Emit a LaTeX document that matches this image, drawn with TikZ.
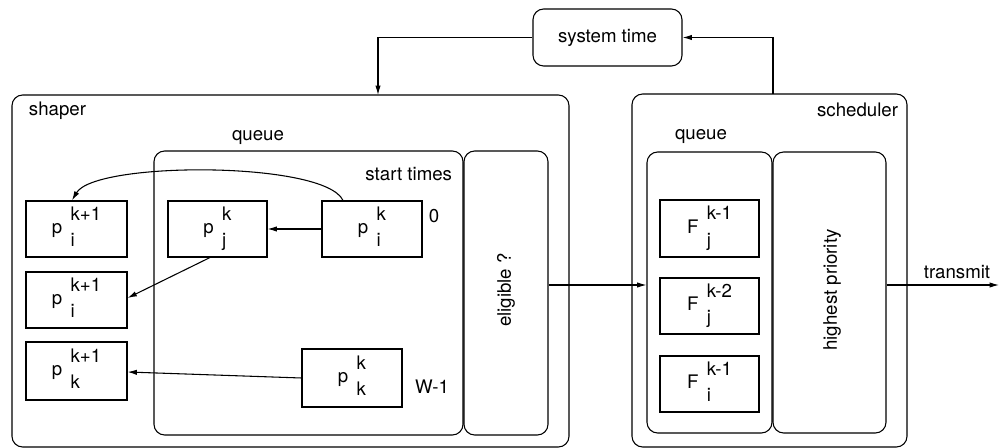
\documentclass[tikz,border=0pt]{standalone}
\usepackage{fontspec}
\setmainfont{TeX Gyre Heros}
\usetikzlibrary{fit,arrows.meta}
% packet / finish-time label: letter with stacked superscript and subscript
\newcommand{\pkt}[3]{#1\hspace{0.45em}\begin{tabular}[c]{@{}l@{}}#2\\[3pt]#3\end{tabular}}

\begin{document}
\begin{tikzpicture}[x=0.75pt,y=-0.75pt,
  font=\fontsize{14}{17}\selectfont, line width=0.8pt,
  frame/.style={draw, rounded corners=8pt, inner sep=0pt, fit={#1}},
  cell/.style={draw, inner sep=0pt, fit={#1}},
  tip/.style={-{Latex[length=7pt,width=4pt]}}]
\useasboundingbox (0,0) rectangle (999,448);

% system clock
\node[frame={(533,9)(682,66)}] (sys) {};
\node (syslbl) at (sys.center) {system time};

% shaper
\node[frame={(12,95)(569,447)}] (shaper) {};
\node[anchor=west] (shlbl) at (24,111) {shaper};
\node[frame={(154,151)(463,435)}] (squeue) {};
\node (sqlbl) at (258,138) {queue};
\node[anchor=east] (stlbl) at (457,174) {start times};
\node[frame={(464,151)(548,435)}] (elig) {};
\node[rotate=90] (eliglbl) at (506,290) {eligible ?};

\node[cell={(26,201)(127,257)}] (l1) {};
\node[cell={(26,272)(127,328)}] (l2) {};
\node[cell={(26,342)(127,400)}] (l3) {};
\node (l1t) at (l1.center) {\pkt{p}{k+1}{i}};
\node (l2t) at (l2.center) {\pkt{p}{k+1}{i}};
\node (l3t) at (l3.center) {\pkt{p}{k+1}{k}};

\node[cell={(168,201)(267,257)}] (pjk) {};
\node[cell={(322,201)(422,257)}] (pik) {};
\node[cell={(302,349)(402,407)}] (pkk) {};
\node (pjkt) at (pjk.center) {\pkt{p}{k}{j}};
\node (pikt) at (pik.center) {\pkt{p}{k}{i}};
\node (pkkt) at (pkk.center) {\pkt{p}{k}{k}};
\node (zero) at (434,216) {0};
\node (wlast) at (432,387) {W-1};

% scheduler
\node[frame={(632,94)(907,447)}] (sched) {};
\node[anchor=east] (sclbl) at (903,110) {scheduler};
\node[frame={(647,152)(772,433)}] (fqueue) {};
\node (fqlbl) at (701,137) {queue};
\node[frame={(773,152)(886,433)}] (hp) {};
\node[rotate=90] (hplbl) at (832,290) {highest priority};

\node[cell={(660,200)(759,257)}] (f1) {};
\node[cell={(660,278)(759,334)}] (f2) {};
\node[cell={(660,356)(759,412)}] (f3) {};
\node (f1t) at (f1.center) {\pkt{F}{k-1}{j}};
\node (f2t) at (f2.center) {\pkt{F}{k-2}{j}};
\node (f3t) at (f3.center) {\pkt{F}{k-1}{i}};

% connectors
\coordinate (shin) at (378,95);
\coordinate (schout) at (773,94);
\coordinate (tx) at (999,285);
\draw[tip] (sys.west) -| (shin);
\draw[tip] (schout) |- (sys.east);

\draw[tip] (pik.west) -- (pjk.east);
\draw[tip] (pik.north -| 343,0) .. controls (325,161) and (95,161) .. (l1.north -| 72,0);
\draw[tip] (pjk.south -| 210,0) -- (l2.east |- 0,298);
\draw[tip] (pkk.west |- 0,378) -- (l3.east |- 0,372);

\draw[tip] (elig.east |- 0,285) -- (fqueue.west |- 0,285);
\draw[tip] (hp.east |- tx) -- (tx);
\node (txlbl) at (957,272) {transmit};
\end{tikzpicture}
\end{document}
